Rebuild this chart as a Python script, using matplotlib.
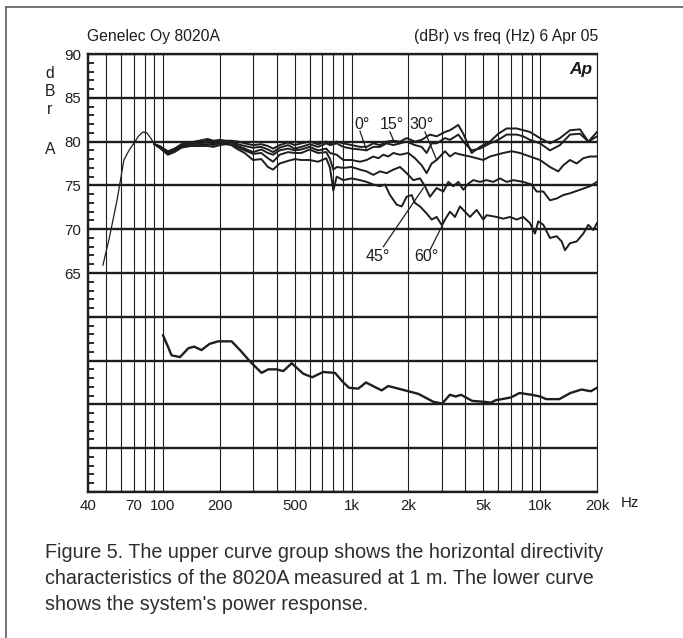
import numpy as np
import matplotlib
matplotlib.use('Agg')
import matplotlib.pyplot as plt
from matplotlib.lines import Line2D
from matplotlib.ticker import NullLocator, MultipleLocator

plt.rcParams['font.family'] = ['Liberation Sans', 'DejaVu Sans']

W, H = 683, 638

########## Data ##########
# single low frequency part, shared by all angles
f_lf  = [48, 52, 57, 62, 66, 70, 74, 78, 82, 86, 90]
db_lf = [65.9, 69.1, 73.3, 77.9, 79.0, 79.8, 80.6, 81.1, 81.0, 80.4, 79.7]

# mid band, common frequency points
f_mid = [96, 106, 115, 125, 140, 155, 172, 185, 200, 215, 230, 250, 271, 300,
         332, 360, 383, 415, 460, 499, 541, 599, 663, 734]
db_mid_15 = [79.5, 78.9, 79.2, 79.7, 79.9, 80.1, 80.3, 80.1, 80.2, 80.1, 80.1, 80.0,
             79.8, 79.6, 79.7, 79.5, 79.2, 79.6, 79.9, 79.6, 79.8, 80.0, 79.7, 80.0]
db_mid_0  = [79.4, 78.8, 79.1, 79.6, 79.8, 79.9, 80.1, 80.0, 80.0, 80.0, 80.0, 79.7,
             79.5, 79.3, 79.4, 79.1, 78.8, 79.3, 79.6, 79.2, 79.4, 79.7, 79.4, 79.8]
db_mid_30 = [79.4, 78.7, 79.0, 79.5, 79.7, 79.8, 79.9, 79.8, 79.9, 79.9, 79.9, 79.5,
             79.2, 78.8, 79.1, 78.7, 78.5, 79.0, 79.2, 79.0, 79.1, 79.4, 79.0, 79.2]
db_mid_45 = [79.3, 78.6, 78.9, 79.4, 79.6, 79.6, 79.7, 79.6, 79.8, 79.8, 79.7, 79.3,
             79.0, 78.6, 78.7, 78.1, 77.7, 78.5, 78.8, 78.7, 78.7, 79.1, 78.7, 78.8]
db_mid_60 = [79.3, 78.5, 78.8, 79.3, 79.5, 79.5, 79.5, 79.4, 79.6, 79.7, 79.6, 79.1,
             78.7, 77.9, 78.0, 77.1, 76.8, 77.5, 77.8, 78.0, 77.9, 77.9, 77.7, 78.1]

# high band, each angle
f_hf_15  = [768, 833, 903, 1000, 1107, 1201, 1303, 1413, 1533, 1664, 1805, 1957, 2166,
            2351, 2602, 2823, 3126, 3322, 3678, 3909, 4328, 4792, 5414, 5993, 6635,
            7496, 8131, 8820, 9970, 11262, 12726, 14380, 16250, 17990, 20000]
db_hf_15 = [79.8, 80.0, 79.8, 79.6, 79.4, 79.4, 79.8, 79.6, 80.0, 80.1, 80.0, 80.4, 80.0,
            80.2, 80.8, 80.6, 81.1, 81.3, 81.9, 80.9, 78.7, 79.4, 80.0, 80.9, 81.5,
            81.5, 81.3, 81.1, 80.4, 79.8, 80.4, 81.3, 81.4, 80.0, 81.1]

f_hf_0  = [768, 833, 903, 1000, 1107, 1201, 1303, 1413, 1533, 1664, 1805, 1957, 2166,
           2351, 2498, 2656, 2823, 3126, 3322, 3678, 3989, 4328, 4792, 5414, 5993,
           6635, 7496, 8131, 8820, 9970, 11262, 12726, 14380, 16250, 17990, 20000]
db_hf_0 = [79.6, 79.8, 79.4, 79.2, 79.1, 79.0, 79.4, 79.4, 79.8, 79.6, 79.8, 80.0, 79.6,
           79.4, 78.7, 79.8, 79.8, 80.4, 80.2, 80.8, 79.8, 79.0, 79.2, 79.8, 80.2,
           80.8, 80.8, 80.6, 80.2, 79.8, 79.0, 79.6, 80.8, 80.9, 80.0, 80.6]

f_hf_30  = [768, 833, 903, 1000, 1107, 1201, 1303, 1385, 1472, 1564, 1664, 1805, 1997,
            2166, 2351, 2498, 2656, 2823, 3126, 3322, 3531, 3830, 4241, 4600, 4990,
            5414, 5872, 6370, 7053, 7808, 8820, 9970, 11262, 12469, 13257, 14380,
            15600, 16920, 18350, 20000]
db_hf_30 = [78.7, 78.5, 77.9, 77.9, 77.7, 77.9, 78.3, 78.1, 78.5, 78.3, 78.7, 78.5, 78.7,
            78.1, 77.3, 76.4, 77.5, 77.9, 78.9, 78.3, 78.7, 78.5, 78.3, 78.1, 77.9,
            78.3, 78.5, 78.7, 78.9, 78.7, 78.3, 77.9, 77.1, 76.6, 77.3, 77.9,
            77.5, 78.1, 78.3, 78.3]

f_hf_45  = [768, 800, 833, 903, 1000, 1107, 1201, 1303, 1413, 1533, 1664, 1805, 1957,
            2123, 2304, 2448, 2602, 2823, 3063, 3256, 3460, 3678, 3909, 4156, 4417,
            4792, 5197, 5638, 6115, 6635, 7199, 8131, 9003, 9573, 10386, 11262, 12221,
            13257, 14380, 16250, 18350, 20000]
db_hf_45 = [78.0, 76.8, 77.1, 77.0, 77.1, 76.8, 76.6, 76.2, 76.6, 76.4, 76.8, 77.1, 76.4,
            75.6, 75.8, 74.9, 73.7, 74.7, 74.3, 75.4, 74.9, 75.4, 74.5, 75.2, 75.6,
            75.4, 75.6, 75.4, 75.8, 75.4, 75.6, 75.4, 75.1, 74.3, 74.3, 73.3, 73.5,
            73.9, 74.1, 74.5, 74.9, 75.4]

f_hf_60  = [768, 800, 833, 903, 1000, 1107, 1201, 1303, 1413, 1502, 1597, 1733, 1842,
            1957, 2080, 2166, 2304, 2498, 2656, 2823, 3001, 3126, 3322, 3531, 3754,
            3989, 4241, 4600, 4990, 5197, 5872, 6370, 6911, 7496, 8131, 8820, 9380,
            9765, 10386, 11262, 12221, 12990, 13527, 14380, 15600, 16920, 17990, 19110, 20000]
db_hf_60 = [77.0, 74.4, 76.0, 75.6, 75.8, 75.6, 75.4, 75.1, 74.9, 75.1, 73.9, 72.8, 72.6,
            73.7, 73.9, 73.0, 72.6, 71.8, 71.1, 71.4, 70.5, 71.1, 72.0, 71.4, 72.6,
            72.0, 71.4, 72.2, 71.1, 71.6, 71.4, 71.2, 71.4, 71.1, 71.4, 70.7, 69.5,
            70.9, 70.5, 69.0, 69.2, 68.6, 67.6, 68.4, 68.6, 69.5, 70.5, 69.9, 70.7]

# power response (lower curve)
f_pw  = [100, 111, 123, 136, 146, 160, 176, 196, 231, 256, 289, 333, 361, 400, 434, 481,
         554, 618, 707, 816, 895, 968, 1084, 1191, 1442, 1564, 1767, 2000, 2260, 2500,
         2711, 3020, 3320, 3557, 3800, 4358, 5030, 5460, 5850, 6265, 7000, 7770, 9000,
         10000, 10770, 12620, 14450, 16550, 18530, 20000]
db_pw = [57.9, 55.6, 55.4, 56.4, 56.6, 56.2, 56.9, 57.2, 57.2, 56.2, 54.9, 53.6, 54.0,
         54.0, 53.8, 54.7, 53.5, 53.1, 53.7, 53.6, 52.6, 51.9, 51.8, 52.5, 51.6, 52.1,
         51.8, 51.5, 51.2, 50.7, 50.3, 50.1, 51.1, 50.9, 51.1, 50.4, 50.3, 50.2, 50.5,
         50.6, 50.8, 51.3, 51.1, 50.9, 50.6, 50.6, 51.3, 51.7, 51.5, 51.9]

# axis ticks
x_grid   = [40, 50, 60, 70, 80, 90, 100, 200, 300, 400, 500, 600, 700, 800, 900,
            1000, 2000, 3000, 4000, 5000, 6000, 7000, 8000, 9000, 10000, 20000]
x_labels = {40: '40', 70: '70', 100: '100', 200: '200', 500: '500', 1000: '1k',
            2000: '2k', 5000: '5k', 10000: '10k', 20000: '20k'}
y_grid   = list(range(40, 91, 5))
y_labeled = [65, 70, 75, 80, 85, 90]

# angle labels: (text, text pos, leader start, leader end) in data units
angle_notes = [('0°',  (1130, 82.0), (1107, 81.2), (1201, 79.0)),
               ('15°', (1630, 82.0), (1597, 81.1), (1677, 80.0)),
               ('30°', (2361, 82.0), (2449, 81.1), (2825, 77.9)),
               ('45°', (1380, 66.9), (1472, 68.0), (2400, 74.7)),
               ('60°', (2496, 66.9), (2600, 67.6), (3126, 71.05))]

########## Figure ##########
fig = plt.figure(figsize=(W / 100, H / 100), dpi=100)
ax = fig.add_axes([88 / W, 1 - 492 / H, 509 / W, 438 / H])

ink = '#1e1e1e'

ax.set_xscale('log')
ax.set_xlim(40, 20000)
ax.set_ylim(40, 90)

ax.set_xticks(x_grid)
ax.set_xticklabels([x_labels.get(v, '') for v in x_grid])
ax.xaxis.set_minor_locator(NullLocator())
ax.set_yticks(y_grid)
ax.set_yticklabels([str(v) if v in y_labeled else '' for v in y_grid])
ax.yaxis.set_minor_locator(MultipleLocator(1))

ax.tick_params(axis='both', which='major', length=0, labelsize=10.8, colors=ink)
ax.tick_params(axis='x', which='major', pad=5)
ax.tick_params(axis='y', which='major', pad=5)
ax.tick_params(axis='y', which='minor', direction='in', length=4, width=1.3,
               color=ink, left=True, right=False)

ax.grid(axis='x', which='major', color=ink, lw=0.8)
ax.grid(axis='y', which='major', color=ink, lw=1.7)
ax.set_axisbelow(True)

for side in ['left', 'bottom', 'top']:
    ax.spines[side].set_linewidth(1.7)
    ax.spines[side].set_color(ink)
ax.spines['right'].set_linewidth(0.8)
ax.spines['right'].set_color(ink)

# curves
ax.plot(f_lf, db_lf, color=ink, lw=0.9)
curves = [(db_mid_15, f_hf_15, db_hf_15), (db_mid_0, f_hf_0, db_hf_0),
          (db_mid_30, f_hf_30, db_hf_30), (db_mid_45, f_hf_45, db_hf_45),
          (db_mid_60, f_hf_60, db_hf_60)]
for db_mid, f_hf, db_hf in curves:
    f = np.concatenate([[f_lf[-1]], f_mid, f_hf])
    d = np.concatenate([[db_lf[-1]], db_mid, db_hf])
    ax.plot(f, d, color=ink, lw=1.4)

ax.plot(f_pw, db_pw, color=ink, lw=1.7)

for txt, pos, p0, p1 in angle_notes:
    ax.text(pos[0], pos[1], txt, ha='center', va='center', fontsize=11.5, color=ink)
    ax.plot([p0[0], p1[0]], [p0[1], p1[1]], color=ink, lw=0.9)

ax.text(0.992, 0.9635, 'Ap', transform=ax.transAxes, ha='right', va='center',
        fontsize=12.5, fontweight='bold', style='italic', color=ink)

# header and axis texts
fig.text(87 / W, 1 - 37 / H, 'Genelec Oy 8020A', ha='left', va='center',
         fontsize=11.3, color=ink)
fig.text(598 / W, 1 - 37 / H, '(dBr) vs freq (Hz) 6 Apr 05', ha='right', va='center',
         fontsize=11.3, color=ink)
for ch, yy in [('d', 73), ('B', 92), ('r', 110), ('A', 149)]:
    fig.text(50 / W, 1 - yy / H, ch, ha='center', va='center', fontsize=11.3, color=ink)
fig.text(630 / W, 1 - 503 / H, 'Hz', ha='center', va='center', fontsize=10.8, color=ink)

# caption
caption = ["Figure 5. The upper curve group shows the horizontal directivity",
           "characteristics of the 8020A measured at 1 m. The lower curve",
           "shows the system's power response."]
for line, yy in zip(caption, [552, 578, 605]):
    fig.text(45 / W, 1 - yy / H, line, ha='left', va='center', fontsize=14.2, color='#2e2e2e')

# outer frame
fig.add_artist(Line2D([6 / W, 1], [1 - 7 / H, 1 - 7 / H], color='#6a6a6a', lw=1.3,
                      transform=fig.transFigure))
fig.add_artist(Line2D([6 / W, 6 / W], [0, 1 - 7 / H], color='#6a6a6a', lw=1.3,
                      transform=fig.transFigure))

fig.savefig('out.png', dpi=100)
